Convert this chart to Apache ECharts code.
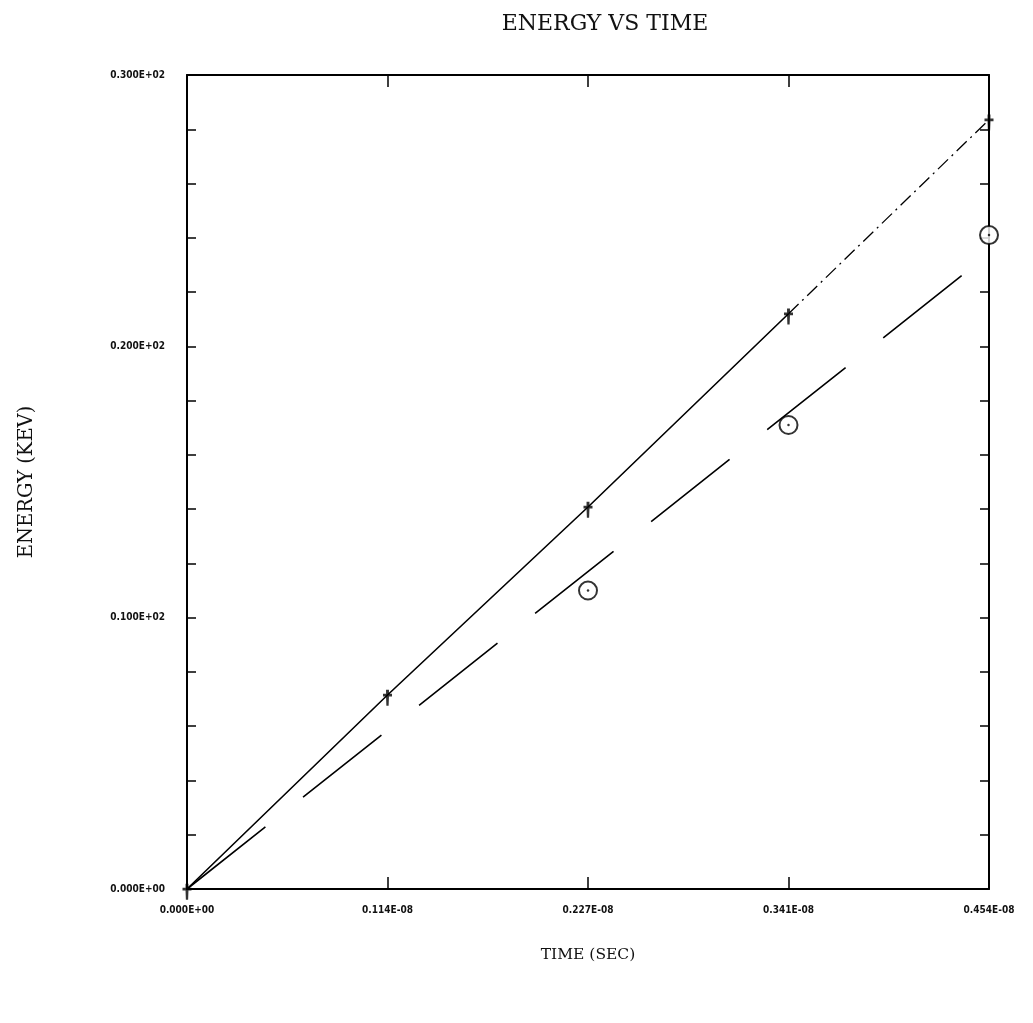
<!DOCTYPE html>
<html>
<head>
<meta charset="utf-8">
<script src="https://cdn.jsdelivr.net/npm/echarts@6/dist/echarts.min.js"></script>
<style>
  html, body { margin: 0; padding: 0; background: #fff; }
  #chart { width: 1033px; height: 1023px; }
</style>
</head>
<body>
<div id="chart"></div>
<script>
// time in units of 1E-09 sec
const timePoints = [0, 1.135, 2.27, 3.405, 4.54];
// energy values (KEV) at the "+" markers
const energyCross = [0, 7.15, 14.08, 21.2, 28.35];
// circle markers
const circleTime = [2.27, 3.405, 4.54];
const energyCircle = [11.0, 17.1, 24.1];
// dashed fit line end points
const fitTime = [0, 4.54];
const fitEnergy = [0, 23.4];

const xTickLabels = ['0.000E+00', '0.114E-08', '0.227E-08', '0.341E-08', '0.454E-08'];
const yTickLabels = ['0.000E+00', '0.100E+02', '0.200E+02', '0.300E+02'];

// solid part runs to the 4th point, dash-dot part after it
const solidIdx = 4;

const chart = echarts.init(document.getElementById('chart'));

const crossPath = 'path://M-1.3,-5 L1.3,-5 L1.3,-1.3 L4,-1.3 L4,1.3 L1.3,1.3 L1,10 L-1,10 L-1.3,1.3 L-4,1.3 L-4,-1.3 L-1.3,-1.3 Z';

function zip(xs, ys) {
  return xs.map((x, i) => [x, ys[i]]);
}

const labelStyle = {
  fontFamily: 'DejaVu Sans Condensed, DejaVu Sans',
  fontSize: 10,
  fontWeight: 'bold',
  color: '#111'
};

const lineBlack = { color: '#000', width: 2 };

chart.setOption({
  animation: false,
  backgroundColor: '#fff',
  title: {
    text: 'ENERGY VS TIME',
    left: 600,
    textAlign: 'center',
    top: 8,
    textStyle: {
      fontFamily: 'DejaVu Serif',
      fontWeight: 'normal',
      fontSize: 22,
      color: '#111'
    }
  },
  grid: { left: 187, right: 44, top: 75, bottom: 134 },
  xAxis: [
    {
      type: 'value',
      min: 0,
      max: 4.54,
      interval: 1.135,
      name: 'TIME (SEC)',
      nameLocation: 'middle',
      nameGap: 58,
      nameTextStyle: { fontFamily: 'DejaVu Serif', fontSize: 15.5, color: '#111' },
      axisLine: { onZero: false, lineStyle: lineBlack },
      axisTick: { inside: true, length: 12, lineStyle: { color: '#000', width: 1.5 } },
      axisLabel: Object.assign({
        margin: 16,
        formatter: v => xTickLabels[Math.round(v / 1.135)]
      }, labelStyle),
      splitLine: { show: false }
    },
    {
      type: 'value',
      position: 'top',
      min: 0,
      max: 4.54,
      interval: 1.135,
      axisLine: { onZero: false, lineStyle: lineBlack },
      axisTick: { inside: true, length: 12, lineStyle: { color: '#000', width: 1.5 } },
      axisLabel: { show: false },
      splitLine: { show: false }
    }
  ],
  yAxis: [
    {
      type: 'value',
      min: 0,
      max: 30,
      interval: 2,
      name: 'ENERGY (KEV)',
      nameLocation: 'middle',
      nameGap: 150,
      nameRotate: 90,
      nameTextStyle: { fontFamily: 'DejaVu Serif', fontSize: 19.5, color: '#111' },
      axisLine: { onZero: false, lineStyle: lineBlack },
      axisTick: { inside: true, length: 9, lineStyle: { color: '#000', width: 1.5 } },
      axisLabel: Object.assign({
        margin: 22,
        formatter: v => (Math.round(v) % 10 === 0 ? yTickLabels[Math.round(v / 10)] : '')
      }, labelStyle),
      splitLine: { show: false }
    },
    {
      type: 'value',
      position: 'right',
      min: 0,
      max: 30,
      interval: 2,
      axisLine: { onZero: false, lineStyle: lineBlack },
      axisTick: { inside: true, length: 9, lineStyle: { color: '#000', width: 1.5 } },
      axisLabel: { show: false },
      splitLine: { show: false }
    }
  ],
  series: [
    {
      type: 'line',
      data: zip(timePoints, energyCross).slice(0, solidIdx),
      showSymbol: false,
      lineStyle: { color: '#000', width: 1.6 },
      z: 3
    },
    {
      type: 'line',
      data: zip(timePoints, energyCross).slice(solidIdx - 1),
      showSymbol: false,
      lineStyle: { color: '#000', width: 1.3, type: [14, 5, 2, 5] },
      z: 3
    },
    {
      type: 'line',
      data: zip(fitTime, fitEnergy),
      showSymbol: false,
      lineStyle: { color: '#000', width: 1.6, type: [100, 48] },
      z: 3
    },
    {
      type: 'scatter',
      data: zip(timePoints, energyCross),
      symbol: crossPath,
      symbolSize: [9, 16],
      symbolOffset: [0, 2.8],
      itemStyle: { color: '#000' },
      z: 5
    },
    {
      type: 'scatter',
      data: zip(circleTime, energyCircle),
      symbol: 'circle',
      symbolSize: 18,
      itemStyle: { color: '#fff', borderColor: '#000', borderWidth: 2 },
      z: 5
    },
    {
      type: 'scatter',
      data: zip(circleTime, energyCircle),
      symbol: 'circle',
      symbolSize: 2.5,
      itemStyle: { color: '#000' },
      z: 6
    }
  ]
});
</script>
</body>
</html>
